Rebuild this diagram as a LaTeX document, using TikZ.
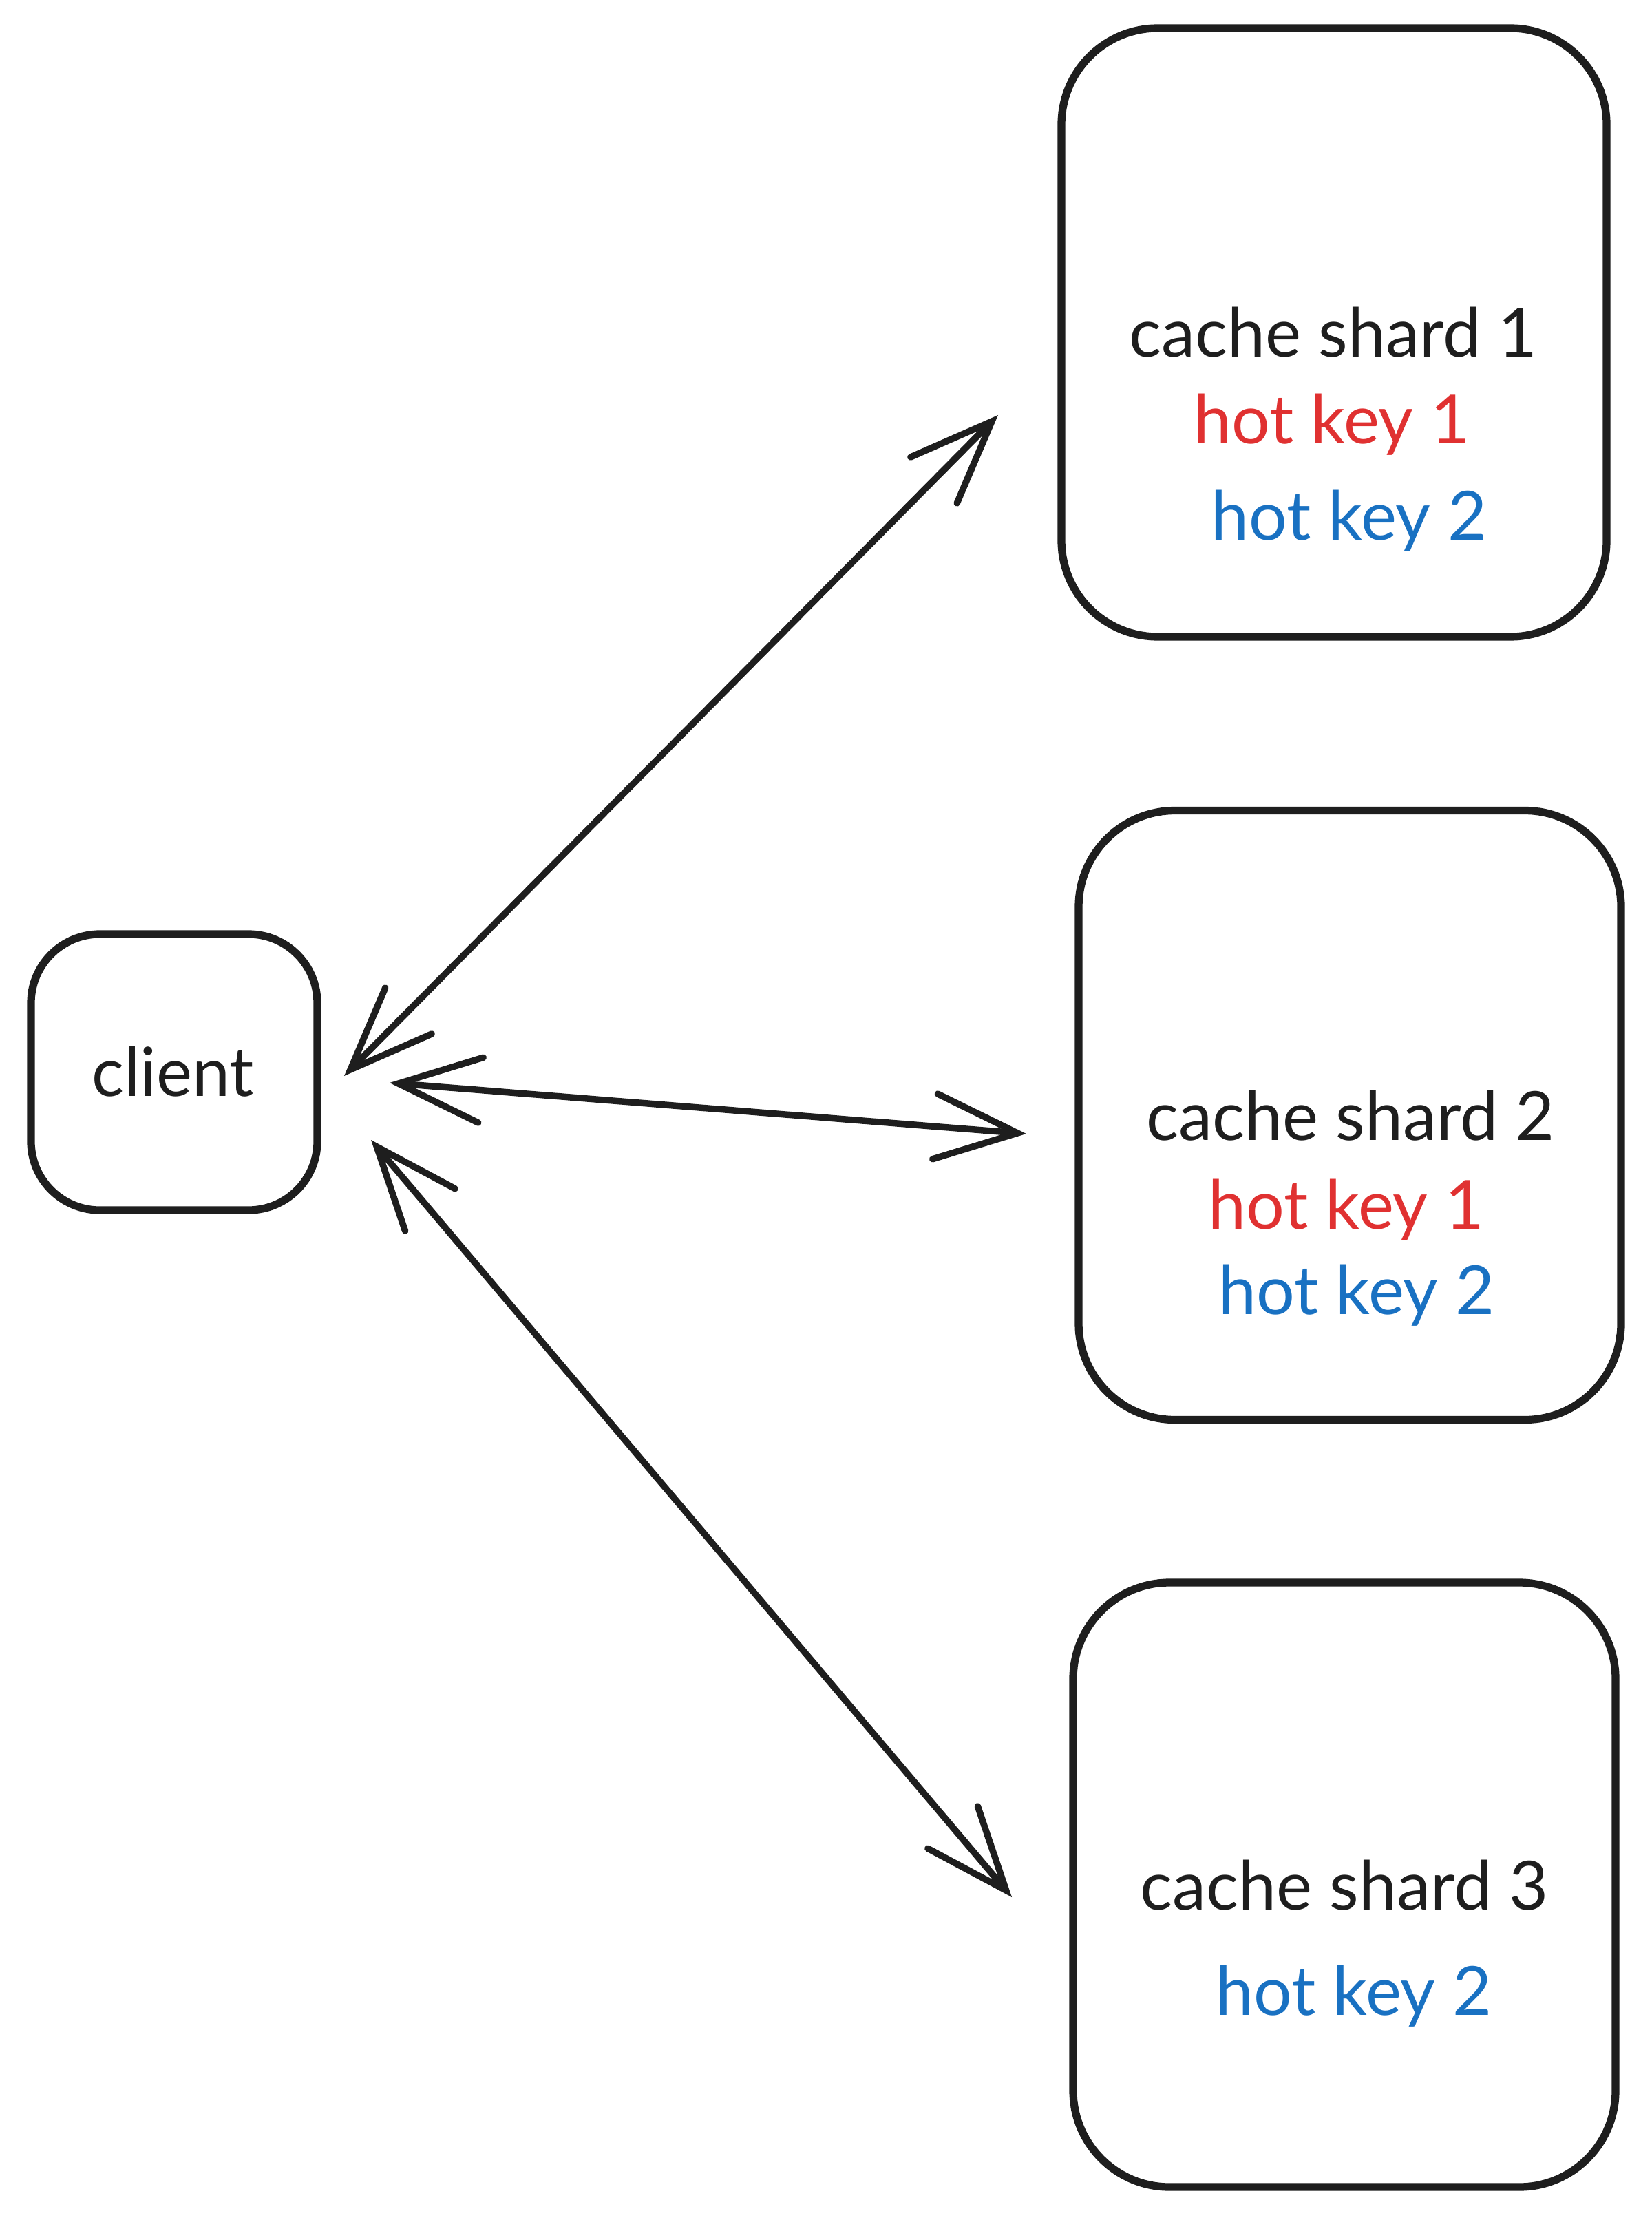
\documentclass[tikz,border=0pt]{standalone}
\usepackage{fontspec}
\setmainfont{Lato}
\usetikzlibrary{arrows.meta}
\definecolor{ink}{HTML}{1E1E1E}
\definecolor{hotred}{HTML}{E03131}
\definecolor{hotblue}{HTML}{1971C2}
\tikzset{
  box/.style={draw=ink, line width=3.2pt, rounded corners=1.4cm, inner sep=0pt},
  smallbox/.style={draw=ink, line width=3.2pt, rounded corners=1.0cm, inner sep=0pt},
  lbl/.style={text=ink, font=\fontsize{28}{32}\selectfont, inner sep=0pt, anchor=center},
  link/.style={draw=ink, line width=2.7pt, line cap=round,
    {Straight Barb[length=1.2cm, width=0.95cm, line cap=round]}-{Straight Barb[length=1.2cm, width=0.95cm, line cap=round]}}
}
\begin{document}
\begin{tikzpicture}
\useasboundingbox (0,0) rectangle (24,-32.25);
% boxes
\node[smallbox, minimum width=4.16cm, minimum height=4.01cm] (client) at (2.53,-15.575) {};
\node[box, minimum width=7.92cm, minimum height=8.84cm] (s1) at (19.38,-4.83) {};
\node[box, minimum width=7.88cm, minimum height=8.85cm] (s2) at (19.61,-16.20) {};
\node[box, minimum width=7.88cm, minimum height=8.78cm] (s3) at (19.53,-27.38) {};
% texts
\node[lbl] (tc) at (2.51,-15.57) {client};
\node[lbl] (t1) at (19.37,-4.83) {cache shard 1};
\node[lbl, text=hotred] (t1a) at (19.35,-6.17) {hot key 1};
\node[lbl, text=hotblue] (t1b) at (19.60,-7.57) {hot key 2};
\node[lbl] (t2) at (19.62,-16.21) {cache shard 2};
\node[lbl, text=hotred] (t2a) at (19.56,-17.58) {hot key 1};
\node[lbl, text=hotblue] (t2b) at (19.71,-18.82) {hot key 2};
\node[lbl] (t3) at (19.53,-27.39) {cache shard 3};
\node[lbl, text=hotblue] (t3b) at (19.67,-29.00) {hot key 2};
% connector ends
\coordinate (a1s) at (5.00,-15.63);
\coordinate (a1e) at (14.50,-6.03);
\coordinate (a2s) at (5.66,-15.73);
\coordinate (a2e) at (14.91,-16.47);
\coordinate (a3s) at (5.39,-16.56);
\coordinate (a3e) at (14.70,-27.56);
\draw[link] (a1s) -- (a1e);
\draw[link] (a2s) -- (a2e);
\draw[link] (a3s) -- (a3e);
\end{tikzpicture}
\end{document}
